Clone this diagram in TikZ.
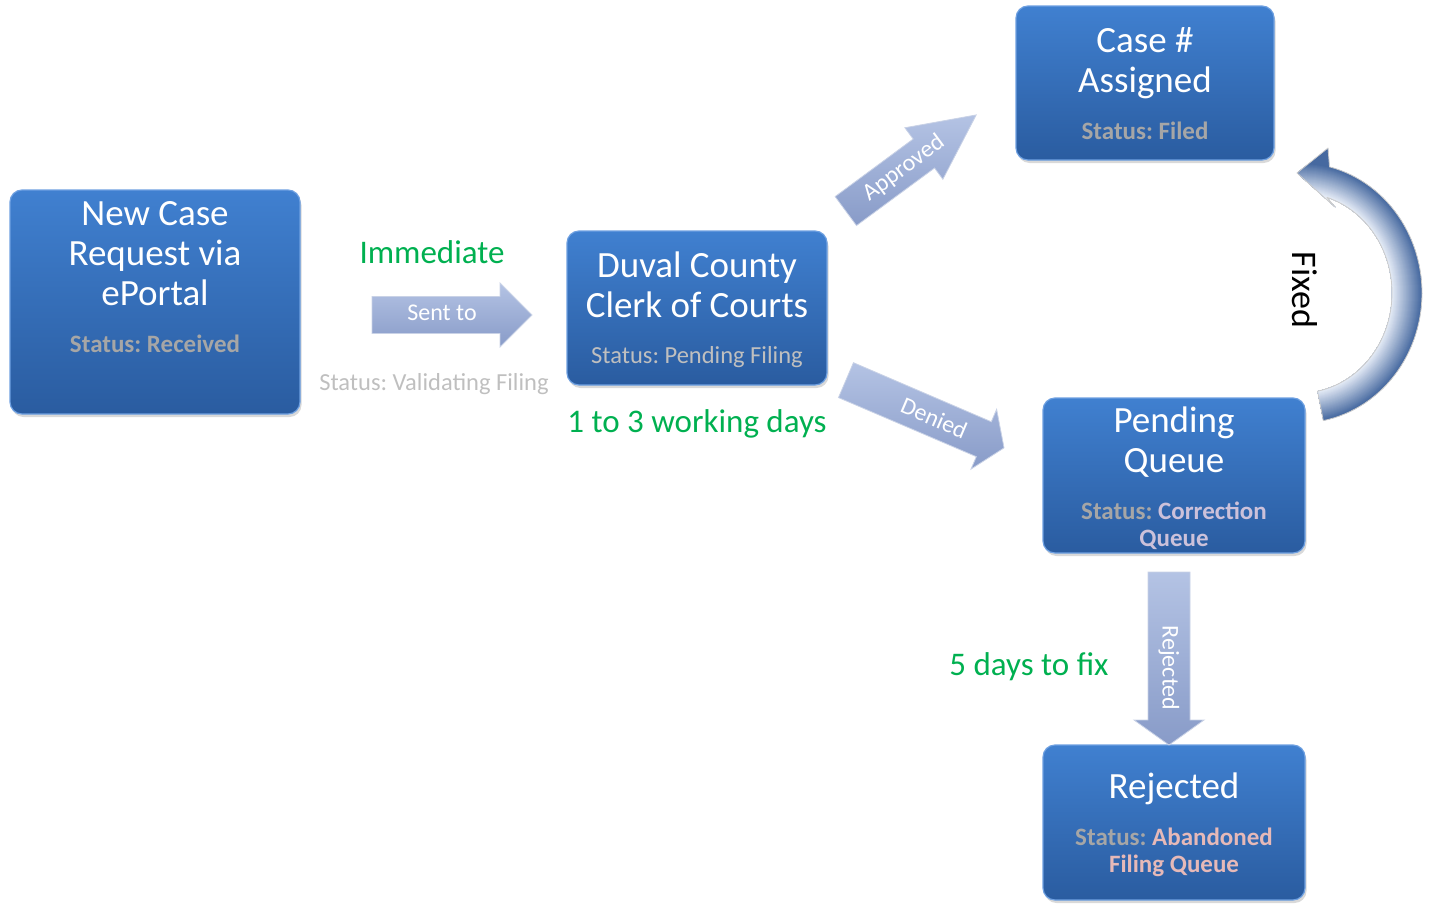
\documentclass[tikz,border=0pt]{standalone}
\usepackage{fontspec}
\setmainfont{Carlito}
\usetikzlibrary{shadows}
\frenchspacing
\definecolor{boxtop}{RGB}{64,128,208}
\definecolor{boxbot}{RGB}{42,92,160}
\definecolor{boxedge}{RGB}{110,160,225}
\definecolor{stgray}{RGB}{166,166,166}
\definecolor{ltgray}{RGB}{191,191,191}
\definecolor{offgreen}{RGB}{0,176,80}
\definecolor{pinkish}{RGB}{230,185,184}
\definecolor{lavender}{RGB}{204,193,218}
\definecolor{arrlight}{RGB}{180,195,228}
\definecolor{arrdark}{RGB}{136,155,200}
\definecolor{ringdark}{RGB}{70,105,160}
\definecolor{ringlight}{RGB}{232,238,248}
\begin{document}
\begin{tikzpicture}[x=1pt,y=-1pt,
 boxstyle/.style={draw=boxedge, line width=1.2pt, rounded corners=12pt, top color=boxtop, bottom color=boxbot,
   drop shadow={opacity=0.3, shadow xshift=1.5pt, shadow yshift=-3pt}},
 titletext/.style={text=white, font=\fontsize{37}{40}\selectfont, anchor=base, inner sep=0pt},
 statustext/.style={text=stgray, font=\bfseries\fontsize{25}{28}\selectfont, anchor=base, inner sep=0pt},
 softtext/.style={text=ltgray, font=\fontsize{24.5}{28}\selectfont, anchor=base, inner sep=0pt},
 greentext/.style={text=offgreen, font=\fontsize{33}{38}\selectfont, anchor=base, inner sep=0pt},
 arrowbody/.style={top color=arrlight, bottom color=arrdark, draw=white!55!arrdark, line width=0.8pt},
 arrowtext/.style={text=white, font=\fontsize{24}{28}\selectfont, inner sep=0pt, transform shape},
]
\useasboundingbox (0,0) rectangle (1436,913);

% ---------- boxes ----------
\node[boxstyle, minimum width=290pt, minimum height=224pt] (newcase) at (155,302) {};
\node[boxstyle, minimum width=260pt, minimum height=154pt] (duval) at (697,308) {};
\node[boxstyle, minimum width=258pt, minimum height=154pt] (casenum) at (1145,83) {};
\node[boxstyle, minimum width=262pt, minimum height=155pt] (pending) at (1174,475.5) {};
\node[boxstyle, minimum width=262pt, minimum height=155pt] (rejected) at (1174,822.5) {};

% ---------- box texts ----------
\node[titletext] (nc1) at (155,225) {New Case};
\node[titletext] (nc2) at (155,265) {Request via};
\node[titletext] (nc3) at (155,305) {ePortal};
\node[statustext] (nc4) at (155,352) {Status: Received};

\node[titletext] (dv1) at (697,277) {Duval County};
\node[titletext] (dv2) at (697,317) {Clerk of Courts};
\node[softtext] (dv3) at (697,363) {Status: Pending Filing};

\node[titletext] (cn1) at (1145,52) {Case \#};
\node[titletext] (cn2) at (1145,92) {Assigned};
\node[statustext] (cn3) at (1145,139) {Status: Filed};

\node[titletext] (pq1) at (1174,432) {Pending};
\node[titletext] (pq2) at (1174,472) {Queue};
\node[statustext] (pq3) at (1174,519) {Status: \textcolor{lavender}{Correction}};
\node[statustext, text=lavender] (pq4) at (1174,546) {Queue};

\node[titletext] (rj1) at (1174,798) {Rejected};
\node[statustext] (rj2) at (1174,845) {Status: \textcolor{pinkish}{Abandoned}};
\node[statustext, text=pinkish] (rj3) at (1174,872) {Filing Queue};

% ---------- free labels ----------
\node[greentext] (immediate) at (432,263) {Immediate};
\node[softtext] (validating) at (434,390) {Status: Validating Filing};
\node[greentext] (workdays) at (697,432) {1 to 3 working days};
\node[greentext] (fivedays) at (1029,675) {5 days to fix};

% ---------- block arrows ----------
\begin{scope}[shift={(452,315)}]
  \path[arrowbody] (-80,-18.5) -- (48,-18.5) -- (48,-32) -- (80,0) -- (48,32) -- (48,18.5) -- (-80,18.5) -- cycle;
  \node[arrowtext] (sentto) at (-10,-2) {Sent to};
\end{scope}

\begin{scope}[shift={(911,163)}, rotate=36.4]
  \path[arrowbody] (-81,-18) -- (16,-18) -- (16,-32) -- (81,0) -- (16,32) -- (16,18) -- (-81,18) -- cycle;
  \node[arrowtext] (approved) at (-9,0) {Approved};
\end{scope}

\begin{scope}[shift={(925,414)}, rotate=-23.2]
  \path[arrowbody] (-86,-19) -- (64,-19) -- (64,-32.5) -- (86,0) -- (64,32.5) -- (64,19) -- (-86,19) -- cycle;
  \node[arrowtext] (denied) at (10,0) {Denied};
\end{scope}

\begin{scope}[shift={(1169,658.5)}, rotate=-90]
  \path[arrowbody] (-86.5,-21) -- (61.5,-21) -- (61.5,-35) -- (86.5,0) -- (61.5,35) -- (61.5,21) -- (-86.5,21) -- cycle;
  \node[arrowtext] (rejarrow) at (9.5,0) {Rejected};
\end{scope}

% ---------- curved "Fixed" arrow ----------
\def\ringpath{({1300+122*cos(79)},{293+130*sin(79)})
  -- plot[domain=79:-76, samples=60] ({1300+122*cos(\x)},{293+130*sin(\x)})
  -- (1328,148) -- (1297,173) -- (1335,207)
  -- plot[domain=-73:79, samples=60] ({1300+92*cos(\x)},{293+100*sin(\x)}) -- cycle}
\begin{scope}
  \clip \ringpath;
  \fill[ringlight] (1280,130) rectangle (1436,440);
  \fill[ringdark] (1300,293) ellipse [x radius=160, y radius=170];
  \foreach \k in {0,...,30} {
    \pgfmathtruncatemacro{\pct}{100*(30-\k)/30}
    \fill[ringdark!\pct!ringlight] (1300,293) ellipse [x radius={122-\k}, y radius={130-\k}];
  }
\end{scope}
\draw[white!60!gray, line width=0.8pt, line join=round] \ringpath;
\node[rotate=-90, font=\fontsize{36}{40}\selectfont, inner sep=0pt] (fixed) at (1305,290) {Fixed};

\end{tikzpicture}
\end{document}
